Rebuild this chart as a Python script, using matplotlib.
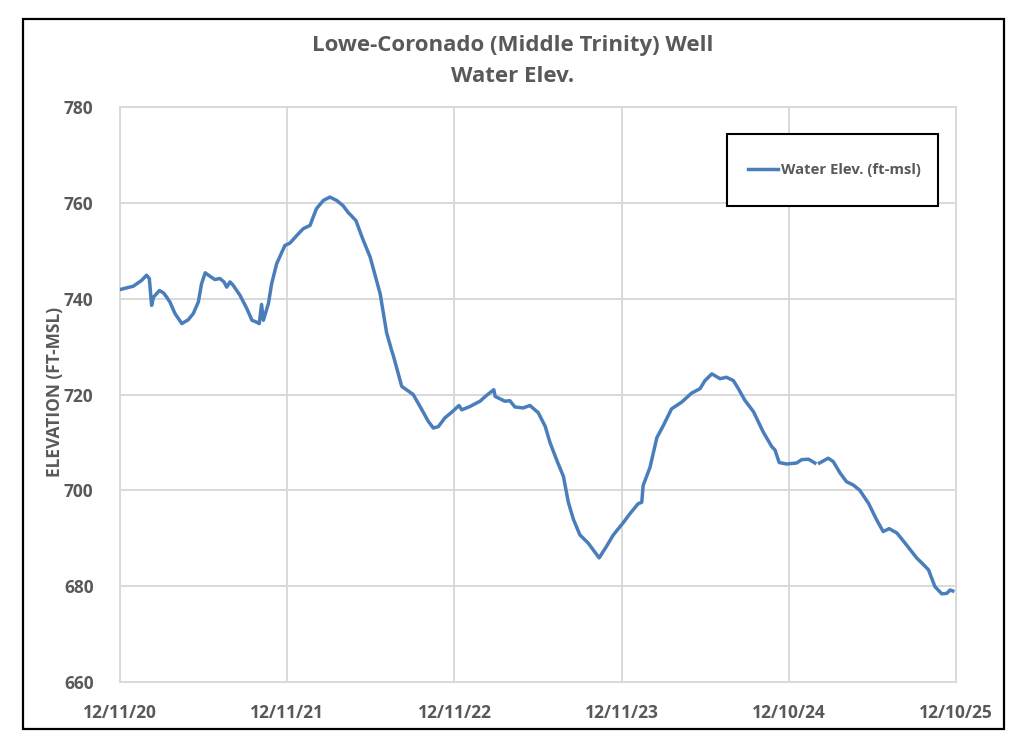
import matplotlib
matplotlib.use("Agg")
import matplotlib.pyplot as plt
from matplotlib.patches import Rectangle
import numpy as np
import pandas as pd

title_lines = ["Lowe-Coronado (Middle Trinity) Well", "Water Elev."]
y_label = "ELEVATION (FT-MSL)"
series_name = "Water Elev. (ft-msl)"

dates = [
    "2020-12-11", "2021-01-09", "2021-01-27", "2021-02-07", "2021-02-13", "2021-02-18",
    "2021-02-22", "2021-03-07", "2021-03-16", "2021-03-23", "2021-03-30", "2021-04-10",
    "2021-04-25", "2021-05-09", "2021-05-20", "2021-05-31", "2021-06-07", "2021-06-15",
    "2021-06-25", "2021-07-06", "2021-07-17", "2021-07-26", "2021-08-01", "2021-08-08",
    "2021-08-15", "2021-08-30", "2021-09-14", "2021-09-25", "2021-10-05", "2021-10-11",
    "2021-10-16", "2021-10-20", "2021-10-31", "2021-11-07", "2021-11-18", "2021-12-06",
    "2021-12-17", "2022-01-01", "2022-01-15", "2022-01-30", "2022-02-06", "2022-02-13",
    "2022-02-28", "2022-03-14", "2022-03-29", "2022-04-12", "2022-04-23", "2022-05-10",
    "2022-05-26", "2022-06-10", "2022-07-02", "2022-07-16", "2022-07-27", "2022-07-31",
    "2022-08-18", "2022-09-12", "2022-09-27", "2022-10-15", "2022-10-26", "2022-11-06",
    "2022-11-20", "2022-12-05", "2022-12-21", "2022-12-27", "2023-01-14", "2023-02-05",
    "2023-02-19", "2023-03-07", "2023-03-10", "2023-03-31", "2023-04-11", "2023-04-22",
    "2023-05-10", "2023-05-25", "2023-06-12", "2023-06-27", "2023-07-08", "2023-07-22",
    "2023-08-06", "2023-08-17", "2023-08-28", "2023-09-11", "2023-09-29", "2023-10-23",
    "2023-11-08", "2023-11-23", "2023-12-15", "2023-12-29", "2024-01-16", "2024-01-24",
    "2024-01-27", "2024-02-11", "2024-02-26", "2024-03-11", "2024-03-29", "2024-04-20",
    "2024-05-12", "2024-05-30", "2024-06-10", "2024-06-25", "2024-07-13", "2024-07-27",
    "2024-08-11", "2024-08-22", "2024-09-05", "2024-09-24", "2024-10-15", "2024-11-03",
    "2024-11-10", "2024-11-19", "2024-12-05", "2024-12-27", "2025-01-07", "2025-01-22",
    "2025-02-05", "2025-02-08", "2025-02-15", "2025-03-06", "2025-03-17", "2025-04-01",
    "2025-04-15", "2025-04-30", "2025-05-14", "2025-06-02", "2025-06-20", "2025-07-04",
    "2025-07-17", "2025-08-03", "2025-08-24", "2025-09-15", "2025-09-30", "2025-10-11",
    "2025-10-25", "2025-11-09", "2025-11-20", "2025-11-27", "2025-12-03",
]

water_elev = [
    741.9, 742.6, 743.8, 744.9, 744.2, 738.6,
    740.3, 741.7, 741.2, 740.3, 739.3, 736.9,
    734.8, 735.6, 736.9, 739.3, 743.1, 745.4,
    744.7, 744.0, 744.2, 743.5, 742.4, 743.5,
    742.8, 740.7, 737.9, 735.5, 735.1, 734.8,
    738.8, 735.5, 739.0, 743.1, 747.3, 751.1,
    751.6, 753.2, 754.6, 755.3, 757.1, 758.8,
    760.5, 761.2, 760.5, 759.4, 758.0, 756.3,
    752.2, 748.7, 741.0, 732.9, 729.2, 728.0,
    721.7, 720.0, 717.5, 714.4, 713.0, 713.3,
    715.1, 716.3, 717.7, 716.8, 717.5, 718.6,
    719.8, 721.0, 719.6, 718.6, 718.7, 717.4,
    717.2, 717.7, 716.2, 713.4, 709.9, 706.4,
    702.9, 697.4, 693.9, 690.7, 689.0, 685.9,
    688.3, 690.7, 693.3, 695.1, 697.2, 697.5,
    701.0, 704.8, 711.0, 713.5, 717.0, 718.4,
    720.3, 721.2, 722.9, 724.3, 723.3, 723.6,
    722.9, 721.2, 718.8, 716.4, 712.2, 709.1,
    708.4, 705.8, 705.5, 705.7, 706.4, 706.5,
    705.7, np.nan, 705.7, 706.7, 706.0, 703.6,
    701.8, 701.1, 700.0, 697.3, 693.8, 691.4,
    692.0, 691.1, 688.6, 685.9, 684.5, 683.4,
    679.9, 678.4, 678.5, 679.2, 679.0,
]

x_ticks = ["2020-12-11", "2021-12-11", "2022-12-11", "2023-12-11", "2024-12-10", "2025-12-10"]
x_tick_labels = ["12/11/20", "12/11/21", "12/11/22", "12/11/23", "12/10/24", "12/10/25"]
y_ticks = [660, 680, 700, 720, 740, 760, 780]

W, H = 1024, 752
fig = plt.figure(figsize=(W / 100, H / 100), dpi=100)
fig.patch.set_facecolor("white")

FONT = ["Open Sans", "DejaVu Sans"]
TXT = "#595959"
GRID = "#d9d9d9"
LINE = "#4a7ebb"

ax = fig.add_axes([120 / W, 1 - 682 / H, (956 - 120) / W, (682 - 107) / H])

d = pd.to_datetime(dates)
ax.plot(d, water_elev, color=LINE, lw=2.5, solid_joinstyle="round", label=series_name, zorder=3)

tick_dates = pd.to_datetime(x_ticks)
ax.set_xlim(tick_dates[0], tick_dates[-1])
ax.set_ylim(y_ticks[0], y_ticks[-1])
ax.set_xticks(tick_dates)
ax.set_xticklabels(x_tick_labels)
ax.set_yticks(y_ticks)
ax.set_yticklabels([str(v) for v in y_ticks])

ax.grid(True, color=GRID, lw=1.4, zorder=0)
ax.set_axisbelow(True)
for s in ax.spines.values():
    s.set_color(GRID)
    s.set_linewidth(1.4)
ax.tick_params(axis="both", length=0, colors=TXT)
ax.tick_params(axis="y", pad=19)
ax.tick_params(axis="x", pad=16)
for lab in ax.get_xticklabels() + ax.get_yticklabels():
    lab.set_fontfamily(FONT)
    lab.set_fontweight("bold")
    lab.set_fontsize(12.5)
    lab.set_color(TXT)

fig.text(55 / W, 1 - 392 / H, y_label, rotation=90, ha="center", va="center",
         fontsize=12.5, fontweight="bold", color=TXT, family=FONT)

fig.text(513 / W, 1 - 46 / H, title_lines[0], ha="center", va="center",
         fontsize=16, fontweight="bold", color=TXT, family=FONT)
fig.text(513 / W, 1 - 77 / H, title_lines[1], ha="center", va="center",
         fontsize=16, fontweight="bold", color=TXT, family=FONT)

# legend box
lx0, lx1, ly0, ly1 = 727, 938, 134, 206
ax.add_patch(Rectangle(((lx0 - 120) / 836, (682 - ly1) / 575), (lx1 - lx0) / 836, (ly1 - ly0) / 575,
                       transform=ax.transAxes, fill=True, facecolor="white", edgecolor="black",
                       lw=1.5, zorder=5))
leg = ax.legend(loc="center", bbox_to_anchor=(((lx0 + lx1) / 2 - 120 + 2) / 836, (682 - (ly0 + ly1) / 2) / 575),
                frameon=False, handlelength=2.0, handletextpad=0.2,
                prop={"family": FONT, "weight": "bold", "size": 10.7})
leg.set_zorder(6)
for t in leg.get_texts():
    t.set_color(TXT)

# outer frame
fig.add_artist(Rectangle((23 / W, 1 - 729 / H), (1004 - 23) / W, (729 - 19) / H,
                         transform=fig.transFigure, fill=False, edgecolor="black", lw=1.6))

fig.savefig("out.png", dpi=100, facecolor="white")
